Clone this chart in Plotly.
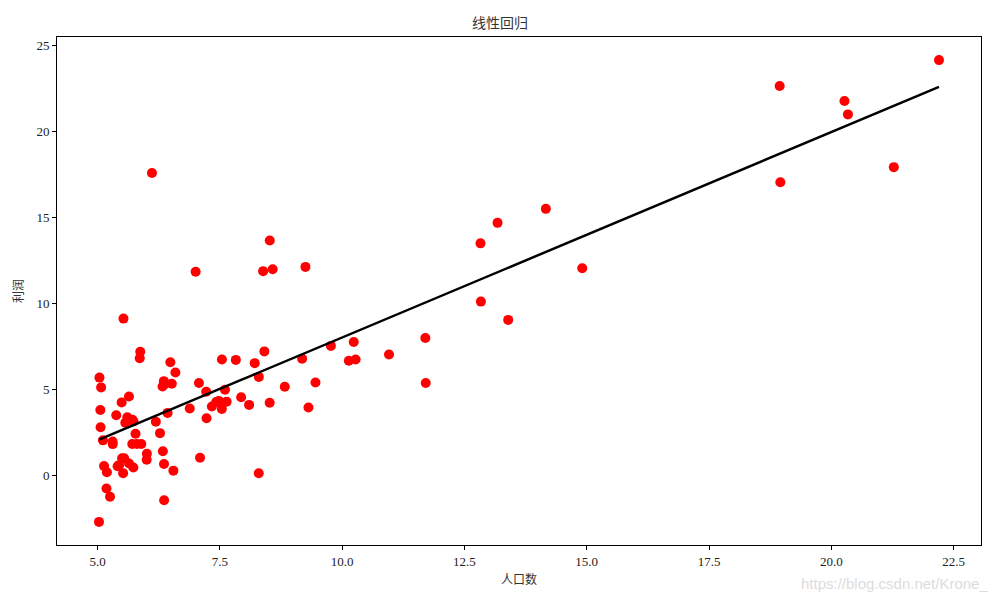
import numpy as np
import plotly.graph_objects as go

# population (10k) and profit (10k $)
population = [
    6.1101, 5.5277, 8.5186, 7.0032, 5.8598, 8.3829, 7.4764, 8.5781, 6.4862, 5.0546,
    5.7107, 14.164, 5.734, 8.4084, 5.6407, 5.3794, 6.3654, 5.1301, 6.4296, 7.0708,
    6.1891, 20.27, 5.4901, 6.3261, 5.5649, 18.945, 12.828, 10.957, 13.176, 22.203,
    5.2524, 6.5894, 9.2482, 5.8918, 8.2111, 7.9334, 8.0959, 5.6063, 12.836, 6.3534,
    5.4069, 6.8825, 11.708, 5.7737, 7.8247, 7.0931, 5.0702, 5.8014, 11.7, 5.5416,
    7.5402, 5.3077, 7.4239, 7.6031, 6.3328, 6.3589, 6.2742, 5.6397, 9.3102, 9.4536,
    8.8254, 5.1793, 21.279, 14.908, 18.959, 7.2182, 8.2951, 10.236, 5.4994, 20.341,
    10.136, 7.3345, 6.0062, 7.2259, 5.0269, 6.5479, 7.5386, 5.0365, 10.274, 5.1077,
    5.7292, 5.1884, 6.3557, 9.7687, 6.5159, 8.5172, 9.1802, 6.002, 5.5204, 5.0594,
    5.7077, 7.6366, 5.8707, 5.3054, 8.2934, 13.394, 5.4369,
]
profit = [
    17.592, 9.1302, 13.662, 11.854, 6.8233, 11.886, 4.3483, 12.0, 6.5987, 3.8166,
    3.2522, 15.505, 3.1551, 7.2258, 0.71618, 3.5129, 5.3048, 0.56077, 3.6518, 5.3893,
    3.1386, 21.767, 4.263, 5.1875, 3.0825, 22.638, 13.501, 7.0467, 14.692, 24.147,
    -1.22, 5.9966, 12.134, 1.8495, 6.5426, 4.5623, 4.1164, 3.3928, 10.117, 5.4974,
    0.55657, 3.9115, 5.3854, 2.4406, 6.7318, 1.0463, 5.1337, 1.844, 8.0043, 1.0179,
    6.7504, 1.8396, 4.2885, 4.9981, 1.4233, -1.4211, 2.4756, 4.6042, 3.9624, 5.4141,
    5.1694, -0.74279, 17.929, 12.054, 17.054, 4.8852, 5.7442, 7.7754, 1.0173, 20.992,
    6.6799, 4.0259, 1.2784, 3.3411, -2.6807, 0.29678, 3.8845, 5.7014, 6.7526, 2.0576,
    0.47953, 0.20421, 0.67861, 7.5435, 5.3436, 4.2415, 6.7981, 0.92695, 0.152, 2.8214,
    1.8451, 4.2959, 7.2029, 1.9869, 0.14454, 9.0551, 0.61705,
]

x = np.array(population)
y = np.array(profit)
slope, intercept = np.polyfit(x, y, 1)
xs = np.sort(x)

FONT = "Liberation Serif, Noto Sans CJK SC, serif"
CJK = "Noto Sans CJK SC"

fig = go.Figure()
fig.add_trace(go.Scatter(
    x=x, y=y, mode="markers",
    marker=dict(color="red", size=10, line=dict(width=0)),
    showlegend=False,
))
fig.add_trace(go.Scatter(
    x=xs, y=intercept + slope * xs, mode="lines",
    line=dict(color="black", width=2.5),
    showlegend=False,
))

axis_common = dict(
    showgrid=False, zeroline=False, showline=True, mirror=True, automargin=False,
    linecolor="black", linewidth=1, ticks="outside", ticklen=4,
    tickcolor="black", tickfont=dict(family=FONT, size=13, color="#222"),
)

pad_x = 0.05 * (x.max() - x.min())
pad_y = 0.05 * (y.max() - y.min())

# page body has an 8px margin, so margins are trimmed to land the axes box
fig.update_layout(
    autosize=True,
    paper_bgcolor="white", plot_bgcolor="white",
    margin=dict(l=49, r=11, t=29, b=47),
    title=dict(text="线性回归", x=0.5, xanchor="center", y=0.975, yanchor="middle",
               font=dict(family=CJK, size=14, color="#333")),
    xaxis=dict(
        range=[x.min() - pad_x, x.max() + pad_x],
        tickvals=[5.0, 7.5, 10.0, 12.5, 15.0, 17.5, 20.0, 22.5],
        ticktext=["5.0", "7.5", "10.0", "12.5", "15.0", "17.5", "20.0", "22.5"],
        title=dict(text="人口数", font=dict(family=CJK, size=12, color="#333"), standoff=8),
        **axis_common,
    ),
    yaxis=dict(
        range=[y.min() - pad_y, y.max() + pad_y],
        tickvals=[0, 5, 10, 15, 20, 25],
        title=dict(text="利润", font=dict(family=CJK, size=12, color="#333"), standoff=10),
        **axis_common,
    ),
)

fig.add_annotation(
    text="https://blog.csdn.net/Krone_", xref="paper", yref="paper",
    x=1.0097, y=-0.055, xanchor="right", yanchor="top", showarrow=False,
    font=dict(family="Liberation Sans, Arial, sans-serif", size=15, color="#dcdcdc"),
)

fig.write_html("out.html", config=dict(responsive=True))
